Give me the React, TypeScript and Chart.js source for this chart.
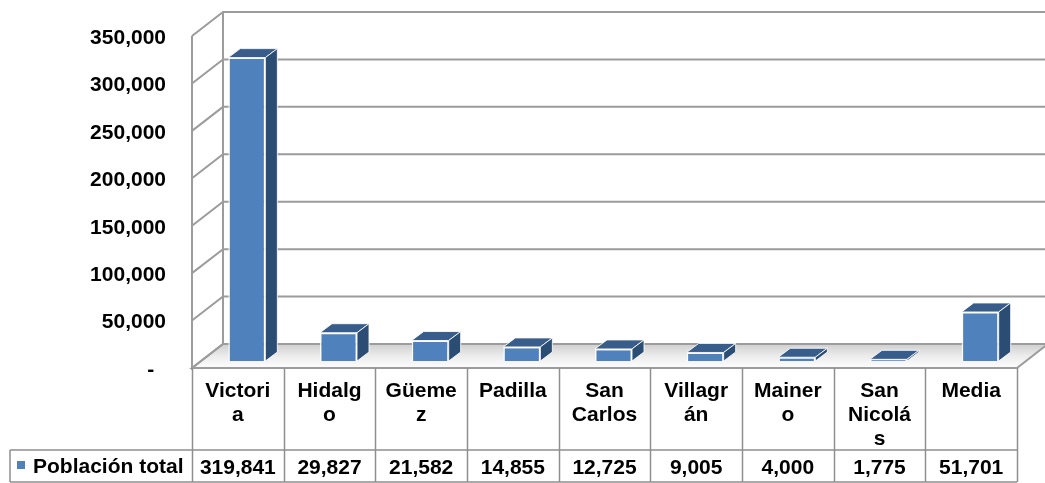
import React, { useEffect, useRef } from "react";
import { Chart, registerables } from "chart.js";

Chart.register(...registerables);

// ---- data ----
const categories = ["Victoria", "Hidalgo", "Güemez", "Padilla", "San Carlos", "Villagrán", "Mainero", "San Nicolás", "Media"];
const seriesName = "Población total";
const population = [319841, 29827, 21582, 14855, 12725, 9005, 4000, 1775, 51701];
const yTicks = [0, 50000, 100000, 150000, 200000, 250000, 300000, 350000];

// ---- style ----
const FONT = "'Liberation Sans', Arial, sans-serif";
const FRONT = "#4F81BD";
const TOP = "#385D8A";
const SIDE = "#2C4D73";
const GRID = "#9c9c9c";
const TABLE = "#8f8f8f";

// geometry offsets (bar plane -> other planes)
const FRONT_DX = -9, FRONT_DY = 7;
const BACK_DX = 22, BACK_DY = -17;
const BAR_DX = 12, BAR_DY = -9;

const fmt = (v: number) => v.toLocaleString("en-US");

function wrapLabel(ctx: CanvasRenderingContext2D, text: string, maxW: number): string[] {
  const words = text.split(" ");
  const lines: string[] = [];
  let cur = "";
  for (const w of words) {
    const cand = cur ? cur + " " + w : w;
    if (ctx.measureText(cand).width <= maxW) { cur = cand; continue; }
    if (cur) { lines.push(cur); cur = ""; }
    if (ctx.measureText(w).width <= maxW) { cur = w; continue; }
    let part = "";
    for (const ch of w) {
      if (ctx.measureText(part + ch).width > maxW && part) { lines.push(part); part = ch; }
      else part += ch;
    }
    cur = part;
  }
  if (cur) lines.push(cur);
  return lines;
}

const wallsPlugin = {
  id: "walls3d",
  beforeDatasetsDraw(chart: any) {
    const { ctx, chartArea: ca, scales } = chart;
    const y = scales.y;
    const L = ca.left, R = ca.right;
    const fL = L + FRONT_DX, fR = R + FRONT_DX;
    const bL = L + BACK_DX, bR = R + BACK_DX;
    const y0 = y.getPixelForValue(0);
    const yTop = y.getPixelForValue(yTicks[yTicks.length - 1]);
    ctx.save();
    // floor
    const g = ctx.createLinearGradient(0, y0 + BACK_DY, 0, y0 + FRONT_DY);
    g.addColorStop(0, "#cfcfcf");
    g.addColorStop(0.5, "#ececec");
    g.addColorStop(1, "#fdfdfd");
    ctx.beginPath();
    ctx.moveTo(fL, y0 + FRONT_DY);
    ctx.lineTo(fR, y0 + FRONT_DY);
    ctx.lineTo(bR, y0 + BACK_DY);
    ctx.lineTo(bL, y0 + BACK_DY);
    ctx.closePath();
    ctx.fillStyle = g;
    ctx.fill();
    ctx.strokeStyle = GRID;
    ctx.lineWidth = 2;
    ctx.stroke();
    // gridlines on side wall + back wall
    for (const v of yTicks) {
      const py = y.getPixelForValue(v);
      ctx.beginPath();
      ctx.moveTo(fL, py + FRONT_DY);
      ctx.lineTo(bL, py + BACK_DY);
      ctx.lineTo(bR + 40, py + BACK_DY);
      ctx.stroke();
    }
    // wall edges
    ctx.beginPath();
    ctx.moveTo(fL, yTop + FRONT_DY);
    ctx.lineTo(fL, y0 + FRONT_DY + 2);
    ctx.moveTo(bL, yTop + BACK_DY);
    ctx.lineTo(bL, y0 + BACK_DY);
    ctx.stroke();
    ctx.restore();
  },
  afterDatasetsDraw(chart: any) {
    const { ctx } = chart;
    const meta = chart.getDatasetMeta(0);
    ctx.save();
    ctx.strokeStyle = "rgba(255,255,255,0.85)";
    ctx.lineWidth = 1;
    meta.data.forEach((bar: any) => {
      const { x, y, base, width } = bar.getProps(["x", "y", "base", "width"], true);
      const l = x - width / 2, r = x + width / 2;
      // top
      ctx.beginPath();
      ctx.moveTo(l, y);
      ctx.lineTo(r, y);
      ctx.lineTo(r + BAR_DX, y + BAR_DY);
      ctx.lineTo(l + BAR_DX, y + BAR_DY);
      ctx.closePath();
      ctx.fillStyle = TOP;
      ctx.fill();
      ctx.stroke();
      // side
      ctx.beginPath();
      ctx.moveTo(r, y);
      ctx.lineTo(r + BAR_DX, y + BAR_DY);
      ctx.lineTo(r + BAR_DX, base + BAR_DY);
      ctx.lineTo(r, base);
      ctx.closePath();
      ctx.fillStyle = SIDE;
      ctx.fill();
      ctx.stroke();
    });
    ctx.restore();
  },
  afterDraw(chart: any) {
    const { ctx, chartArea: ca, scales } = chart;
    const y = scales.y;
    const n = categories.length;
    const L = ca.left + FRONT_DX, R = ca.right + FRONT_DX;
    const colW = (R - L) / n;
    const top = y.getPixelForValue(0) + FRONT_DY;
    const split = top + 82;
    const bottom = split + 32;
    const legL = 10;
    ctx.save();
    ctx.strokeStyle = TABLE;
    ctx.lineWidth = 1.5;
    ctx.beginPath();
    for (let i = 0; i <= n; i++) {
      const xx = Math.round(L + i * colW) + 0.5;
      ctx.moveTo(xx, top);
      ctx.lineTo(xx, bottom);
    }
    ctx.moveTo(legL, split);
    ctx.lineTo(R, split);
    ctx.moveTo(legL, bottom);
    ctx.lineTo(R, bottom);
    ctx.moveTo(legL, split);
    ctx.lineTo(legL, bottom);
    ctx.stroke();

    ctx.fillStyle = "#000";
    ctx.font = `bold 21px ${FONT}`;
    ctx.textAlign = "center";
    ctx.textBaseline = "alphabetic";
    categories.forEach((c, i) => {
      const cx = L + (i + 0.5) * colW;
      const lines = wrapLabel(ctx, c, 73);
      lines.forEach((ln, k) => ctx.fillText(ln, cx, top + 29 + k * 24));
      ctx.fillText(fmt(population[i]), cx, split + 24);
    });
    // legend cell
    ctx.fillStyle = FRONT;
    ctx.fillRect(17, split + 11, 8, 8);
    ctx.fillStyle = "#000";
    ctx.textAlign = "left";
    ctx.fillText(seriesName, 33, split + 23);
    ctx.restore();
  },
};

export default function App() {
  const ref = useRef<HTMLCanvasElement | null>(null);
  useEffect(() => {
    document.body.style.margin = "0";
    if (!ref.current) return;
    const chart = new Chart(ref.current, {
      type: "bar",
      data: {
        labels: categories,
        datasets: [
          {
            label: seriesName,
            data: population,
            backgroundColor: FRONT,
            borderColor: "rgba(255,255,255,0.9)",
            borderWidth: 1.5,
            categoryPercentage: 1,
            barPercentage: 0.404,
          },
        ],
      },
      options: {
        animation: false,
        responsive: true,
        maintainAspectRatio: false,
        layout: { padding: { left: 0, right: 19, top: 29, bottom: 122 } },
        plugins: { legend: { display: false }, tooltip: { enabled: false } },
        scales: {
          x: { display: false, offset: true },
          y: {
            min: 0,
            max: yTicks[yTicks.length - 1],
            afterFit: (s: any) => { s.width = 201; s.paddingTop = 0; s.paddingBottom = 0; },
            afterBuildTicks: (s: any) => { s.ticks = yTicks.map((v) => ({ value: v })); },
            grid: { display: false, drawTicks: false },
            border: { display: false },
            ticks: {
              padding: 35,
              labelOffset: 9,
              color: "#000",
              font: { family: FONT, size: 21, weight: "bold" },
              callback: (v: any) => (Number(v) === 0 ? "-  " : fmt(Number(v))),
            },
          },
        },
      },
      plugins: [wallsPlugin],
    });
    return () => chart.destroy();
  }, []);
  return (
    <div style={{ position: "fixed", left: 0, top: 0, width: 1045, height: 483, background: "#fff" }}>
      <canvas ref={ref} />
    </div>
  );
}
